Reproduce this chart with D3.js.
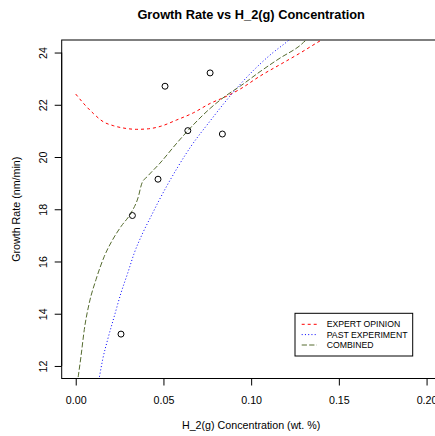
<!DOCTYPE html>
<html>
<head>
<meta charset="utf-8">
<script src="https://cdn.jsdelivr.net/npm/d3@7"></script>
<style>
  html, body { margin: 0; padding: 0; background: #fff; overflow: hidden; }
  svg { display: block; font-family: "Liberation Sans", Arial, Helvetica, sans-serif; }
</style>
</head>
<body>
<svg id="chart" width="435" height="436"></svg>
<script>
// Axis ticks
const xTicks = [0, 0.05, 0.10, 0.15, 0.20];
const xTickLabels = ["0.00", "0.05", "0.10", "0.15", "0.20"];
const yTicks = [12, 14, 16, 18, 20, 22, 24];

// Measured growth rates
const obsX = [0.0258, 0.0323, 0.0469, 0.0509, 0.0639, 0.0766, 0.0836];
const obsY = [13.22, 17.76, 19.15, 22.71, 21.01, 23.22, 20.88];

// Fitted curves
const expertX = [0.0000, 0.0053, 0.0100, 0.0157, 0.0214, 0.0281, 0.0348, 0.0414, 0.0481, 0.0576,
                 0.0670, 0.0766, 0.0861, 0.0937, 0.1051, 0.1165, 0.1279, 0.1399, 0.1450];
const expertY = [22.41, 21.99, 21.67, 21.35, 21.20, 21.10, 21.06, 21.08, 21.17, 21.42,
                 21.69, 22.05, 22.33, 22.60, 23.10, 23.54, 23.98, 24.47, 24.66];

const pastX = [0.0125, 0.01345, 0.01539, 0.01824, 0.02201, 0.02583, 0.02965, 0.03341, 0.0382, 0.04293,
               0.04766, 0.0515, 0.0583, 0.0651, 0.0765, 0.0879, 0.0993, 0.1107, 0.1216, 0.1250];
const pastY = [11.22, 11.56, 12.26, 13.02, 13.91, 14.80, 15.56, 16.33, 17.09, 17.73,
               18.36, 18.84, 19.63, 20.35, 21.37, 22.33, 23.18, 23.90, 24.48, 24.68];

const combinedX = [0.0008, 0.00148, 0.00302, 0.00490, 0.00775, 0.01157, 0.01631, 0.02109, 0.02583, 0.03153,
                   0.03552, 0.0378, 0.0408, 0.0481, 0.0576, 0.0670, 0.0766, 0.0861, 0.0937, 0.1051,
                   0.1165, 0.1279, 0.1313, 0.1350];
const combinedY = [11.29, 11.62, 12.38, 13.40, 14.42, 15.31, 16.20, 16.84, 17.34, 17.86,
                   18.44, 19.01, 19.25, 19.77, 20.53, 21.23, 21.86, 22.37, 22.71, 23.27,
                   23.79, 24.27, 24.47, 24.57];

const seriesNames = ["EXPERT OPINION", "PAST EXPERIMENT", "COMBINED"];
const seriesColors = ["#ff0000", "#0000ff", "#556b2f"];
const seriesDash = ["3,3", "1,2.25", "5.25,2.25"];

const svg = d3.select("#chart");

// Plot region with 4% padding around the data limits
const box = { left: 61.7, right: 440.6, top: 40, bottom: 378.5 };
const x = d3.scaleLinear().domain([-0.008, 0.208]).range([box.left, box.right]);
const y = d3.scaleLinear().domain([11.52, 24.48]).range([box.bottom, box.top]);

svg.append("defs").append("clipPath").attr("id", "plotClip")
  .append("rect")
  .attr("x", box.left).attr("y", box.top)
  .attr("width", box.right - box.left).attr("height", box.bottom - box.top);

// Title
svg.append("text")
  .attr("x", (box.left + box.right) / 2).attr("y", 18.7)
  .attr("text-anchor", "middle")
  .attr("font-size", 12.8).attr("font-weight", "bold")
  .text("Growth Rate vs H_2(g) Concentration");

// Frame
svg.append("rect")
  .attr("x", box.left).attr("y", box.top)
  .attr("width", box.right - box.left).attr("height", box.bottom - box.top)
  .attr("fill", "none").attr("stroke", "#000").attr("stroke-width", 1);

// Bottom axis
const xAxis = d3.axisBottom(x).tickValues(xTicks)
  .tickFormat((d, i) => xTickLabels[i]).tickSizeOuter(0).tickSizeInner(7).tickPadding(11);
const gx = svg.append("g").attr("transform", `translate(0,${box.bottom})`).call(xAxis);
gx.select(".domain").attr("d", `M${x(xTicks[0])},0H${x(xTicks[xTicks.length - 1])}`)
  .attr("stroke", "#000");
gx.selectAll(".tick line").attr("stroke", "#000");
gx.selectAll(".tick text").attr("font-size", 10.7).attr("fill", "#000")
  .attr("font-family", "Liberation Sans, Arial, sans-serif");

// Left axis
const yAxis = d3.axisLeft(y).tickValues(yTicks).tickFormat(d3.format("d"))
  .tickSizeOuter(0).tickSizeInner(7);
const gy = svg.append("g").attr("transform", `translate(${box.left},0)`).call(yAxis);
gy.select(".domain").attr("d", `M0,${y(yTicks[0])}V${y(yTicks[yTicks.length - 1])}`)
  .attr("stroke", "#000");
gy.selectAll(".tick line").attr("stroke", "#000");
gy.selectAll(".tick text")
  .attr("x", null).attr("dy", null)
  .attr("text-anchor", "middle")
  .attr("transform", "translate(-15.2,0) rotate(-90)")
  .attr("font-size", 10.7).attr("fill", "#000")
  .attr("font-family", "Liberation Sans, Arial, sans-serif");

// Axis titles
svg.append("text")
  .attr("x", (box.left + box.right) / 2).attr("y", 428.5)
  .attr("text-anchor", "middle").attr("font-size", 10.7)
  .text("H_2(g) Concentration (wt. %)");
svg.append("text")
  .attr("transform", `translate(20.4,${(box.top + box.bottom) / 2}) rotate(-90)`)
  .attr("text-anchor", "middle").attr("font-size", 10.7)
  .text("Growth Rate (nm/min)");

// Curves
const line = d3.line().x(d => x(d[0])).y(d => y(d[1])).curve(d3.curveMonotoneX);
const curves = [
  d3.zip(expertX, expertY),
  d3.zip(pastX, pastY),
  d3.zip(combinedX, combinedY)
];
const plot = svg.append("g").attr("clip-path", "url(#plotClip)");
curves.forEach((pts, i) => {
  plot.append("path")
    .attr("d", line(pts))
    .attr("fill", "none")
    .attr("stroke", seriesColors[i])
    .attr("stroke-width", 1)
    .attr("stroke-dasharray", seriesDash[i]);
});

// Observations
plot.selectAll("circle.obs")
  .data(d3.zip(obsX, obsY))
  .join("circle")
  .attr("class", "obs")
  .attr("cx", d => x(d[0])).attr("cy", d => y(d[1]))
  .attr("r", 3)
  .attr("fill", "none").attr("stroke", "#000").attr("stroke-width", 1);

// Legend
const legend = svg.append("g");
legend.append("rect")
  .attr("x", 295).attr("y", 313.3).attr("width", 117.7).attr("height", 42.7)
  .attr("fill", "#fff").attr("stroke", "#000").attr("stroke-width", 1);
const rowY = [324.3, 334.6, 345];
seriesNames.forEach((name, i) => {
  legend.append("line")
    .attr("x1", 301.7).attr("x2", 317).attr("y1", rowY[i]).attr("y2", rowY[i])
    .attr("stroke", seriesColors[i]).attr("stroke-width", 1)
    .attr("stroke-dasharray", seriesDash[i]);
  legend.append("text")
    .attr("x", 326.7).attr("y", rowY[i]).attr("dy", "0.35em")
    .attr("font-size", 8.7)
    .text(name);
});
</script>
</body>
</html>
